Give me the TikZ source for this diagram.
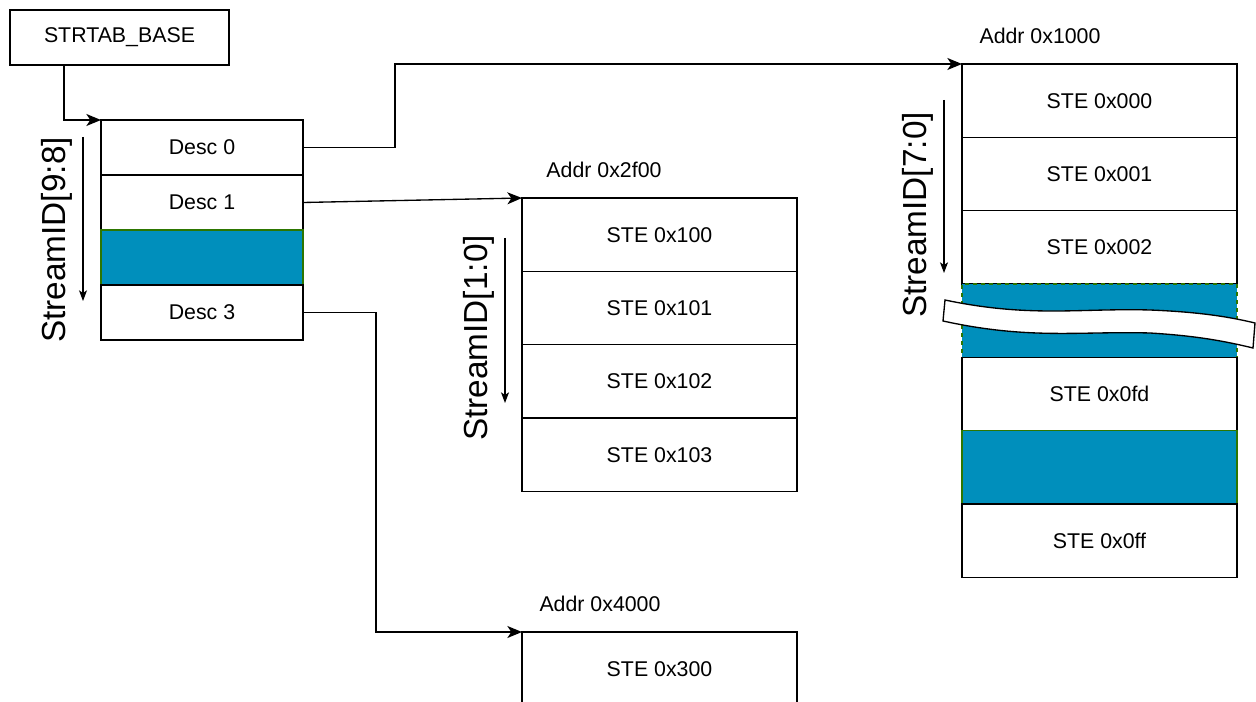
\documentclass[tikz,border=0pt]{standalone}
\usepackage{fontspec}
\setmainfont{Liberation Sans}
\usepackage{tikz}
\usetikzlibrary{arrows.meta, positioning, calc}
\definecolor{SkipBlue}{RGB}{0,143,188}
\definecolor{SkipGreen}{RGB}{45,118,0}

\begin{document}
\begin{tikzpicture}[x=0.75pt,y=-0.75pt,
        cell/.style={draw,fill=white,line width=1pt,inner sep=0pt,outer sep=0pt,
                     font=\fontsize{16}{19}\selectfont,text centered},
        desc/.style={cell,minimum width=151.5pt,minimum height=41.25pt},
        ste/.style={cell,minimum width=206.25pt,minimum height=55pt},
        skip/.style={fill=SkipBlue,draw=SkipGreen},
        addr/.style={font=\fontsize{16}{19}\selectfont},
        idlabel/.style={rotate=90,font=\fontsize{25}{30}\selectfont},
        link/.style={draw,line width=1pt,-{Stealth[length=11pt,width=9pt,inset=3pt]}},
        idarrow/.style={draw,line width=0.8pt,-{Stealth[length=8pt,width=6pt,inset=2pt]}}
      ]
        \clip (0,0) rectangle (1256,702);
        % base register
        \node[cell,minimum width=164.25pt,minimum height=41.25pt,anchor=north west]
              (base) at (10,10) {STRTAB\_BASE};
        % level 1 descriptors
        \node[desc,anchor=north west] (d0) at (101,120) {Desc 0};
        \node[desc,below=0pt of d0] (d1) {Desc 1};
        \node[desc,skip,below=0pt of d1] (d2) {};
        \node[desc,below=0pt of d2] (d3) {Desc 3};
        % table at 0x1000
        \node[addr] (a0) at (1040,36) {Addr 0x1000};
        \node[ste,anchor=north west] (t0) at (962,64) {STE 0x000};
        \node[ste,below=0pt of t0] (t1) {STE 0x001};
        \node[ste,below=0pt of t1] (t2) {STE 0x002};
        \node[ste,skip,dashed,below=0pt of t2] (t3) {};
        \node[ste,below=0pt of t3] (t4) {STE 0x0fd};
        \node[ste,skip,below=0pt of t4] (t5) {};
        \node[ste,below=0pt of t5] (t6) {STE 0x0ff};
        % break mark
        \draw[fill=white,line width=1pt]
          (945,300) .. controls (1030,318) and (1080,308) .. (1150,310)
          .. controls (1200,312) and (1230,317) .. (1255,323)
          -- (1253,348) .. controls (1228,342) and (1200,336) .. (1150,333)
          .. controls (1080,331) and (1030,340) .. (943,321) -- cycle;
        % table at 0x2f00
        \node[addr] (a1) at (604,170) {Addr 0x2f00};
        \node[ste,anchor=north west] (s0) at (522,198) {STE 0x100};
        \node[ste,below=0pt of s0] (s1) {STE 0x101};
        \node[ste,below=0pt of s1] (s2) {STE 0x102};
        \node[ste,below=0pt of s2] (s3) {STE 0x103};
        % table at 0x4000
        \node[addr] (a2) at (600,604) {Addr 0x4000};
        \node[ste,anchor=north west] (u0) at (522,632) {STE 0x300};
        \node[ste,below=0pt of u0] (u1) {};
        % stream id ranges
        \coordinate (i0s) at (83,137);  \coordinate (i0e) at (83,301);
        \coordinate (i1s) at (505,238); \coordinate (i1e) at (505,403);
        \coordinate (i2s) at (944,100); \coordinate (i2e) at (944,273);
        \draw[idarrow] (i0s) -- (i0e);
        \draw[idarrow] (i1s) -- (i1e);
        \draw[idarrow] (i2s) -- (i2e);
        \node[idlabel] (l0) at (57,240) {StreamID[9:8]};
        \node[idlabel] (l1) at (479,338) {StreamID[1:0]};
        \node[idlabel] (l2) at (918,215) {StreamID[7:0]};
        % pointers
        \draw[link] ($(base.south west)+(54,0)$) |- (d0.north west);
        \draw[link] (d0.east) -- ++(92,0) |- (t0.north west);
        \draw[link] (d1.east) -- (s0.north west);
        \draw[link] (d3.east) -- ++(73,0) |- (u0.north west);
      \end{tikzpicture}
\end{document}
